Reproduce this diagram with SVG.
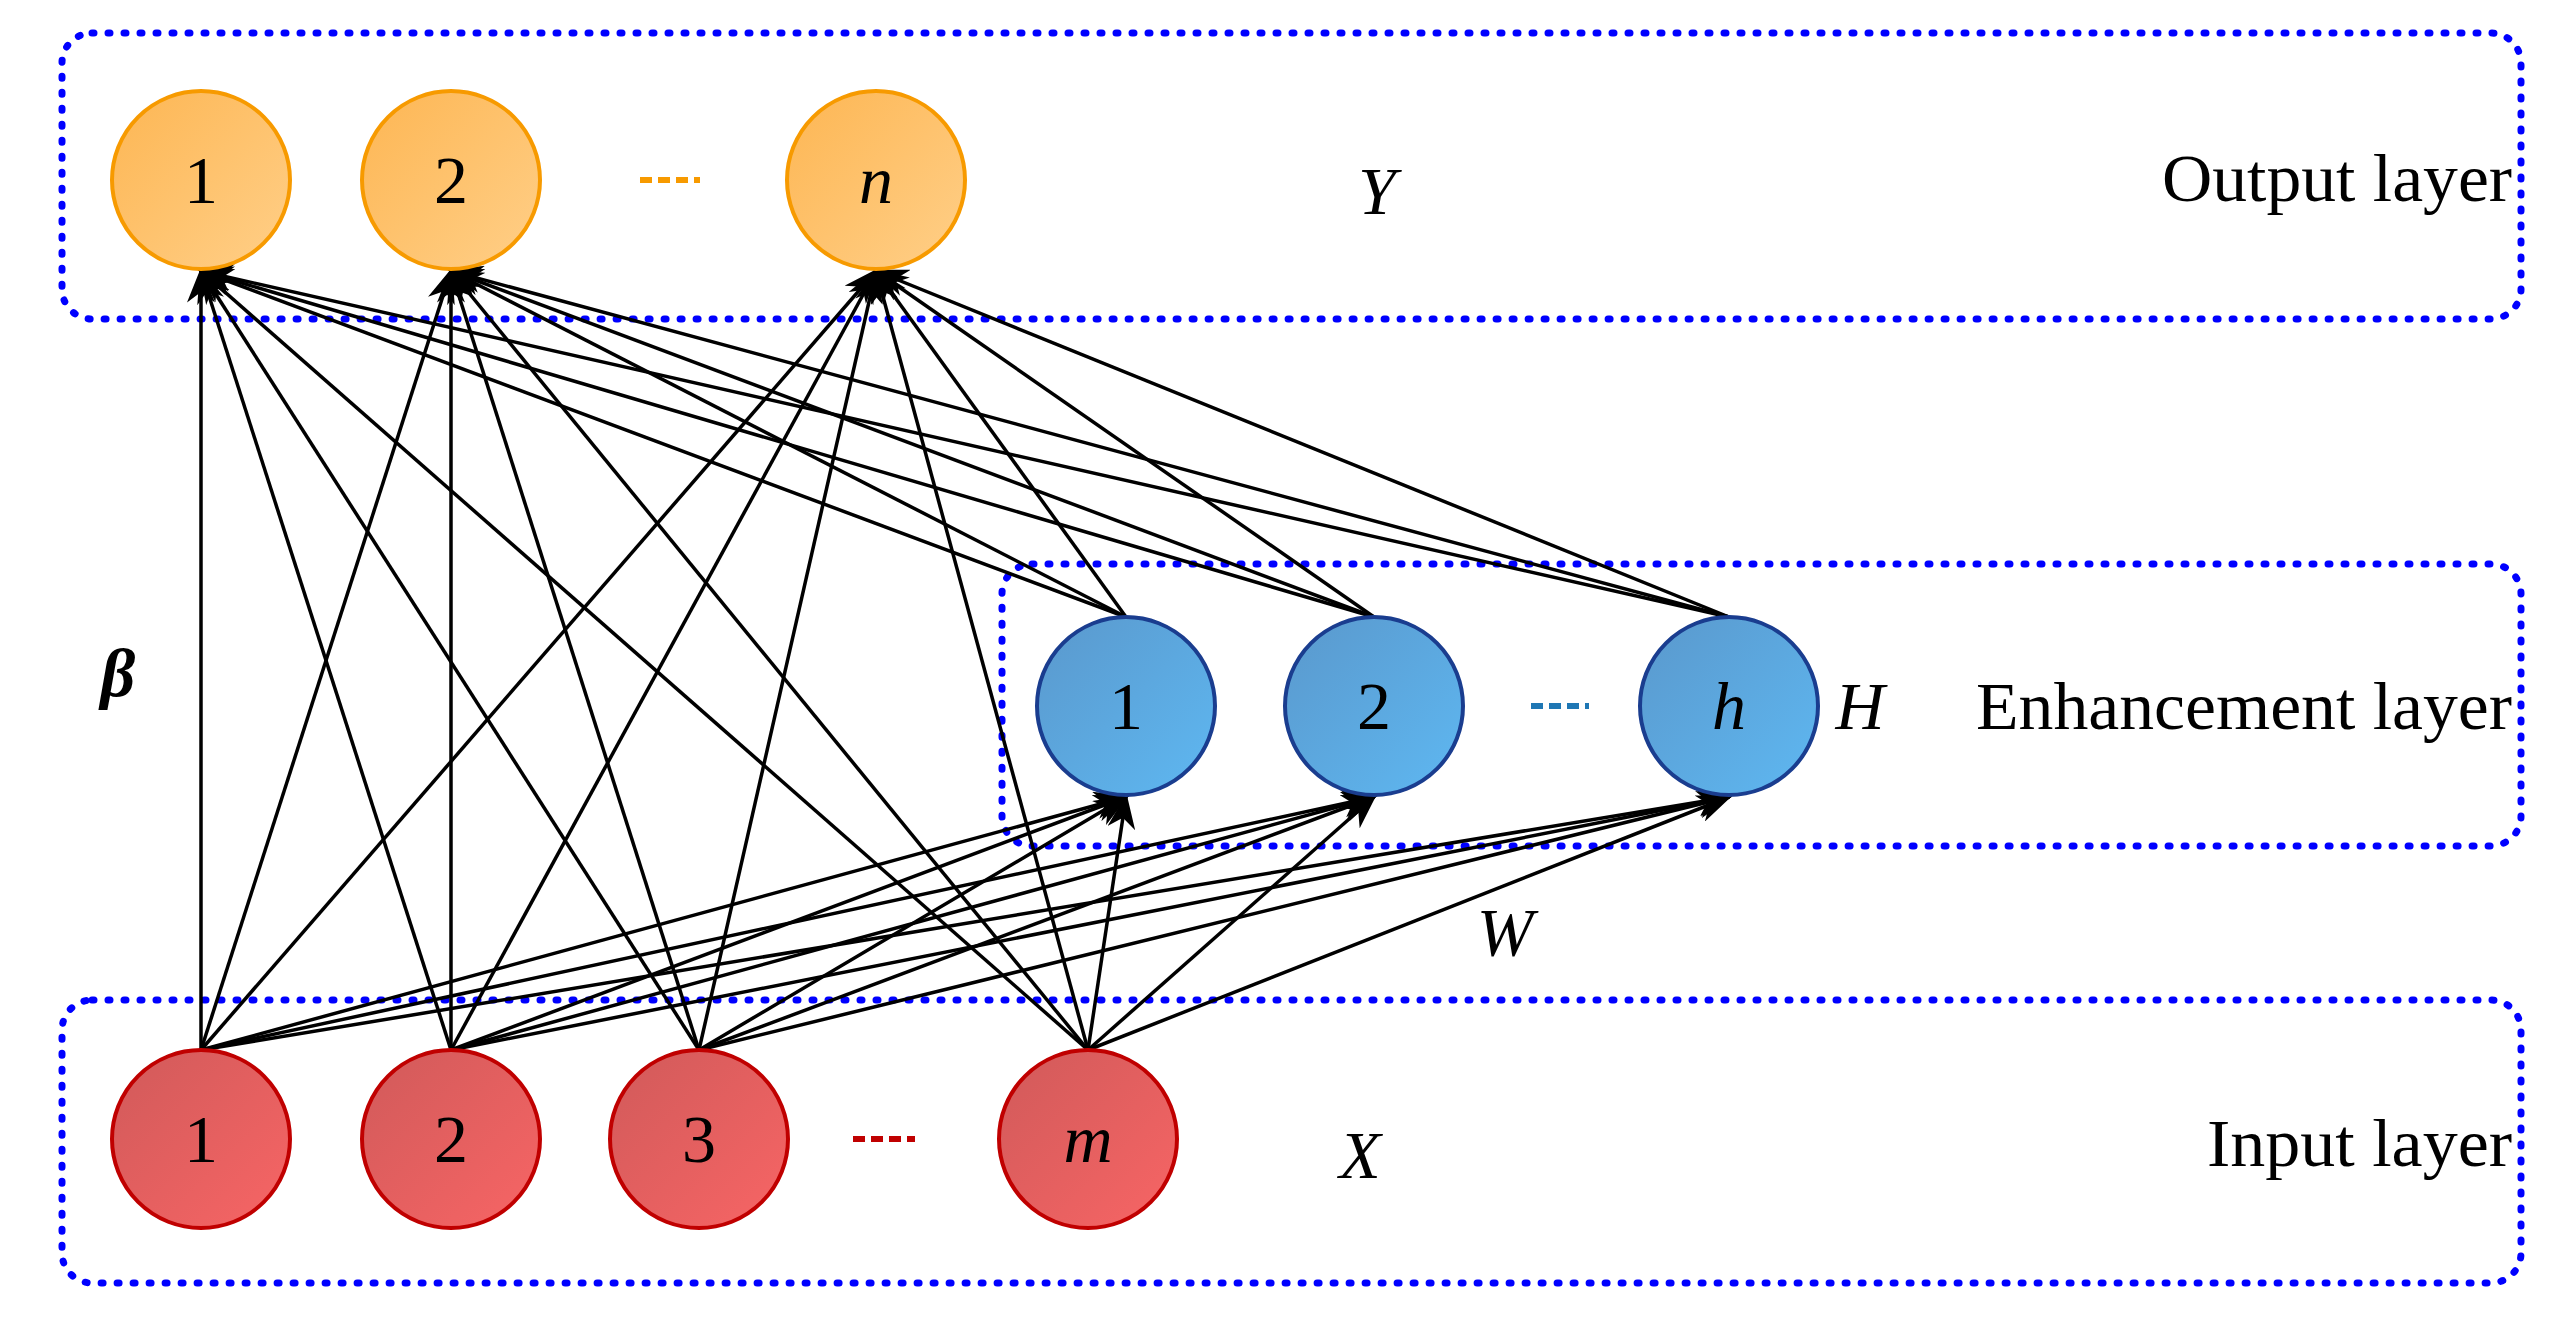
<svg xmlns="http://www.w3.org/2000/svg" width="2549" height="1336" viewBox="0 0 2549 1336">
<style>
.box{fill:none;stroke:#0000FF;stroke-width:7;stroke-dasharray:2 14;stroke-linecap:round}
.lbl{font-family:"Liberation Serif",serif;font-size:68px;fill:#000;text-anchor:middle;dominant-baseline:central}
.it{font-style:italic}
.lay{font-family:"Liberation Serif",serif;font-size:68px;fill:#000;text-anchor:end;dominant-baseline:central}
.c line{stroke:#000;stroke-width:3.5;marker-end:url(#ah)}
.o{fill:url(#go);stroke:#F79A00;stroke-width:4}
.e{fill:url(#ge);stroke:#1A3D8F;stroke-width:4}
.i{fill:url(#gi);stroke:#C00000;stroke-width:4}
</style>
<defs>
<linearGradient id="go" x1="0" y1="0" x2="1" y2="1"><stop offset="0" stop-color="#FDB653"/><stop offset="1" stop-color="#FFCF88"/></linearGradient>
<linearGradient id="ge" x1="0" y1="0" x2="1" y2="1"><stop offset="0" stop-color="#5A98CC"/><stop offset="1" stop-color="#5EB8F2"/></linearGradient>
<linearGradient id="gi" x1="0" y1="0" x2="1" y2="1"><stop offset="0" stop-color="#D05A5A"/><stop offset="1" stop-color="#F86565"/></linearGradient>
<marker id="ah" markerWidth="10" markerHeight="8" refX="9" refY="4" orient="auto" markerUnits="strokeWidth"><path d="M0,0 L10,4 L0,8 L3,4 Z" fill="#000"/></marker>
</defs>
<rect width="2549" height="1336" fill="#fff"/>
<g id="boxes">
<rect class="box" x="62" y="33" width="2459" height="286" rx="30"/>
<rect class="box" x="1002" y="564" width="1519" height="282" rx="30"/>
<rect class="box" x="62" y="1000" width="2459" height="283" rx="30"/>
</g>
<g id="connectors" class="c">
<line x1="201" y1="1050" x2="201" y2="271"/><line x1="201" y1="1050" x2="451" y2="271"/><line x1="201" y1="1050" x2="876" y2="271"/>
<line x1="201" y1="1050" x2="1126" y2="797"/><line x1="201" y1="1050" x2="1374" y2="797"/><line x1="201" y1="1050" x2="1729" y2="797"/>
<line x1="451" y1="1050" x2="201" y2="271"/><line x1="451" y1="1050" x2="451" y2="271"/><line x1="451" y1="1050" x2="876" y2="271"/>
<line x1="451" y1="1050" x2="1126" y2="797"/><line x1="451" y1="1050" x2="1374" y2="797"/><line x1="451" y1="1050" x2="1729" y2="797"/>
<line x1="699" y1="1050" x2="201" y2="271"/><line x1="699" y1="1050" x2="451" y2="271"/><line x1="699" y1="1050" x2="876" y2="271"/>
<line x1="699" y1="1050" x2="1126" y2="797"/><line x1="699" y1="1050" x2="1374" y2="797"/><line x1="699" y1="1050" x2="1729" y2="797"/>
<line x1="1088" y1="1050" x2="201" y2="271"/><line x1="1088" y1="1050" x2="451" y2="271"/><line x1="1088" y1="1050" x2="876" y2="271"/>
<line x1="1088" y1="1050" x2="1126" y2="797"/><line x1="1088" y1="1050" x2="1374" y2="797"/><line x1="1088" y1="1050" x2="1729" y2="797"/>
<line x1="1126" y1="617" x2="201" y2="271"/><line x1="1126" y1="617" x2="451" y2="271"/><line x1="1126" y1="617" x2="876" y2="271"/>
<line x1="1374" y1="617" x2="201" y2="271"/><line x1="1374" y1="617" x2="451" y2="271"/><line x1="1374" y1="617" x2="876" y2="271"/>
<line x1="1729" y1="617" x2="201" y2="271"/><line x1="1729" y1="617" x2="451" y2="271"/><line x1="1729" y1="617" x2="876" y2="271"/>
</g>
<g id="out1"><circle class="o" cx="201" cy="180" r="89"/><text class="lbl" x="201" y="180">1</text></g>
<g id="out2"><circle class="o" cx="451" cy="180" r="89"/><text class="lbl" x="451" y="180">2</text></g>
<g id="outn"><circle class="o" cx="876" cy="180" r="89"/><text class="lbl it" x="876" y="180">n</text></g>
<g id="enh1"><circle class="e" cx="1126" cy="706" r="89"/><text class="lbl" x="1126" y="706">1</text></g>
<g id="enh2"><circle class="e" cx="1374" cy="706" r="89"/><text class="lbl" x="1374" y="706">2</text></g>
<g id="enhh"><circle class="e" cx="1729" cy="706" r="89"/><text class="lbl it" x="1729" y="706">h</text></g>
<g id="in1"><circle class="i" cx="201" cy="1139" r="89"/><text class="lbl" x="201" y="1139">1</text></g>
<g id="in2"><circle class="i" cx="451" cy="1139" r="89"/><text class="lbl" x="451" y="1139">2</text></g>
<g id="in3"><circle class="i" cx="699" cy="1139" r="89"/><text class="lbl" x="699" y="1139">3</text></g>
<g id="inm"><circle class="i" cx="1088" cy="1139" r="89"/><text class="lbl it" x="1088" y="1139">m</text></g>
<g id="dots">
<line x1="640" y1="180" x2="700" y2="180" stroke="#F79A00" stroke-width="6" stroke-dasharray="12 6"/>
<line x1="1531" y1="706" x2="1589" y2="706" stroke="#1F77B4" stroke-width="6" stroke-dasharray="12 6"/>
<line x1="853" y1="1139" x2="915" y2="1139" stroke="#C00000" stroke-width="6" stroke-dasharray="12 6"/>
</g>
<g id="labels">
<text class="lbl it" x="1377" y="191">Y</text>
<text class="lbl it" x="1860" y="706">H</text>
<text class="lbl it" x="1505" y="932">W</text>
<text class="lbl it" x="1360" y="1155">X</text>
<text class="lbl it" x="118" y="673" font-weight="bold">β</text>
<text class="lay" x="2512" y="178" textLength="350" lengthAdjust="spacingAndGlyphs">Output layer</text>
<text class="lay" x="2512" y="706" textLength="536" lengthAdjust="spacingAndGlyphs">Enhancement layer</text>
<text class="lay" x="2512" y="1143" textLength="305" lengthAdjust="spacingAndGlyphs">Input layer</text>
</g>
</svg>
